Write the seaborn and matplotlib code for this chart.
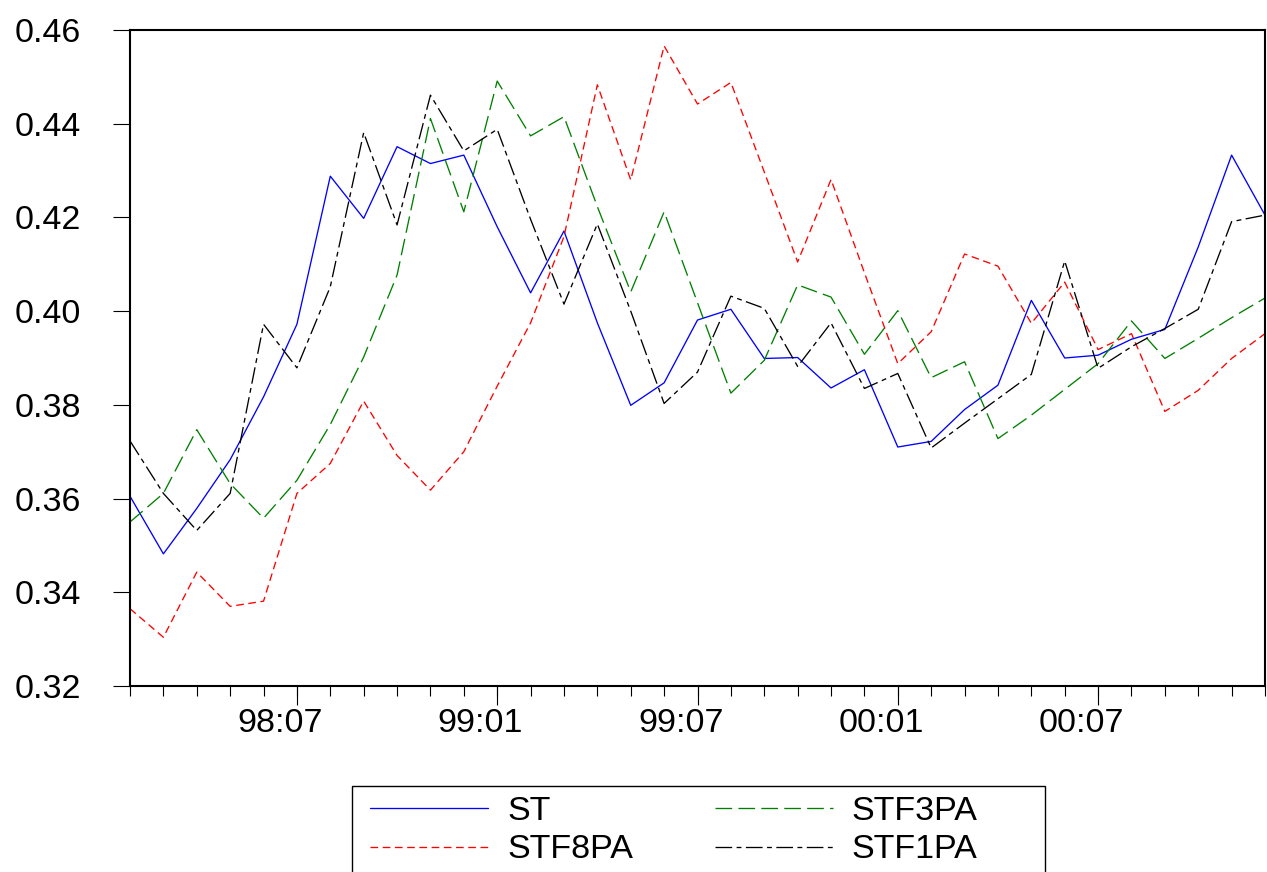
import numpy as np
import pandas as pd
import matplotlib
matplotlib.use("Agg")
import matplotlib.pyplot as plt
from matplotlib.patches import Rectangle
import seaborn as sns

# ---------------- data ----------------
periods = [p.strftime("%y:%m") for p in pd.period_range("1998-02", "2000-12", freq="M")]
x_labels = ["98:07", "99:01", "99:07", "00:01", "00:07"]

ST = [0.3605, 0.3482, 0.3579, 0.3683, 0.3817, 0.3972, 0.4288, 0.4198, 0.4351, 0.4315,
      0.4333, 0.4180, 0.4039, 0.4171, 0.3975, 0.3799, 0.3847, 0.3981, 0.4004, 0.3899,
      0.3901, 0.3836, 0.3875, 0.3710, 0.3722, 0.3790, 0.3842, 0.4023, 0.3900, 0.3906,
      0.3940, 0.3961, 0.4137, 0.4333, 0.4205]
STF3PA = [0.3550, 0.3611, 0.3747, 0.3632, 0.3558, 0.3639, 0.3758, 0.3902, 0.4077, 0.4411,
          0.4212, 0.4491, 0.4374, 0.4415, 0.4223, 0.4041, 0.4212, 0.4018, 0.3825, 0.3895,
          0.4056, 0.4030, 0.3908, 0.4001, 0.3858, 0.3892, 0.3728, 0.3778, 0.3833, 0.3888,
          0.3979, 0.3899, 0.3942, 0.3986, 0.4028]
STF8PA = [0.3365, 0.3304, 0.3443, 0.3370, 0.3381, 0.3611, 0.3675, 0.3808, 0.3692, 0.3618,
          0.3700, 0.3840, 0.3975, 0.4159, 0.4483, 0.4280, 0.4566, 0.4442, 0.4488, 0.4297,
          0.4105, 0.4281, 0.4082, 0.3888, 0.3956, 0.4122, 0.4096, 0.3974, 0.4062, 0.3918,
          0.3952, 0.3786, 0.3831, 0.3899, 0.3952]
STF1PA = [0.3723, 0.3611, 0.3532, 0.3611, 0.3972, 0.3879, 0.4052, 0.4381, 0.4184, 0.4461,
          0.4342, 0.4388, 0.4196, 0.4015, 0.4186, 0.4000, 0.3803, 0.3870, 0.4032, 0.4006,
          0.3882, 0.3975, 0.3835, 0.3867, 0.3708, 0.3761, 0.3813, 0.3865, 0.4107, 0.3878,
          0.3924, 0.3963, 0.4004, 0.4191, 0.4205]

series_names = ["ST", "STF3PA", "STF8PA", "STF1PA"]
series_vals = [ST, STF3PA, STF8PA, STF1PA]
colors = {"ST": "#0000ff", "STF3PA": "#008000", "STF8PA": "#ff0000", "STF1PA": "#000000"}
dash_map = {"ST": "", "STF3PA": (12, 4.5), "STF8PA": (5.5, 3.3), "STF1PA": (12, 3.2, 3.5, 3.2)}

df = pd.concat([
    pd.DataFrame({"idx": np.arange(len(v)), "value": v, "series": n})
    for n, v in zip(series_names, series_vals)
], ignore_index=True)

# ---------------- style ----------------
sns.set_theme(style="white")
plt.rcParams["font.family"] = ["Liberation Sans", "DejaVu Sans"]
plt.rcParams["lines.scale_dashes"] = False
plt.rcParams["text.color"] = "black"
plt.rcParams["legend.labelcolor"] = "black"
FS = 24.5

fig = plt.figure(figsize=(12.67, 8.72), dpi=100)
ax = fig.add_axes([130 / 1267, (872 - 686) / 872, (1265 - 130) / 1267, (686 - 30) / 872])

sns.lineplot(data=df, x="idx", y="value", hue="series", style="series",
             hue_order=series_names, style_order=series_names,
             palette=colors, dashes=dash_map, linewidth=0.95,
             legend=False, ax=ax, sort=False)

n = len(ST)
ax.set_xlim(0, n - 1)
ax.set_ylim(0.32, 0.46)
ax.set_xlabel("")
ax.set_ylabel("")

# y axis
yt = np.round(np.arange(0.32, 0.4601, 0.02), 2)
ax.set_yticks(yt)
ax.set_yticklabels([f"{v:.2f}" for v in yt])
ax.tick_params(axis="y", direction="out", length=12, width=0.8, pad=23.5,
               labelsize=FS, colors="black", left=True)

# x axis: short ticks every month, long ticks at labelled months, labels centred before them
lab_idx = [periods.index(l) for l in x_labels]
ax.set_xticks([i - 0.5 for i in lab_idx])
ax.set_xticklabels(x_labels)
ax.tick_params(axis="x", which="major", length=0, pad=16, labelsize=FS, colors="black")
ax.set_xticks(np.arange(n), minor=True)
ax.tick_params(axis="x", which="minor", direction="out", length=7.2, width=0.8,
               color="black", bottom=True)
sec = ax.secondary_xaxis("bottom")
sec.set_xticks(lab_idx)
sec.tick_params(axis="x", direction="out", length=13.7, width=0.8, color="black",
                labelbottom=False)
sec.spines["bottom"].set_visible(False)

for s in ax.spines.values():
    s.set_visible(True)
    s.set_color("black")
    s.set_linewidth(1.5)
ax.grid(False)

# legend
lines = ax.get_lines()
hmap = {name: lines[i] for i, name in enumerate(series_names)}
order = ["ST", "STF8PA", "STF3PA", "STF1PA"]
leg = fig.legend([hmap[o] for o in order], order, ncol=2, frameon=False,
                 loc="upper left", bbox_to_anchor=(370 / 1267, 1 - 796 / 872),
                 bbox_transform=fig.transFigure, borderaxespad=0, borderpad=0,
                 handlelength=3.47, handletextpad=0.56, columnspacing=2.4,
                 labelspacing=0.22, fontsize=FS, labelcolor="black")
fig.add_artist(Rectangle((352 / 1267, -0.05), (1045 - 352) / 1267, (872 - 786) / 872 + 0.05,
                         transform=fig.transFigure, fill=False, edgecolor="black",
                         linewidth=1.0, clip_on=False))

fig.savefig("out.png", dpi=100)
